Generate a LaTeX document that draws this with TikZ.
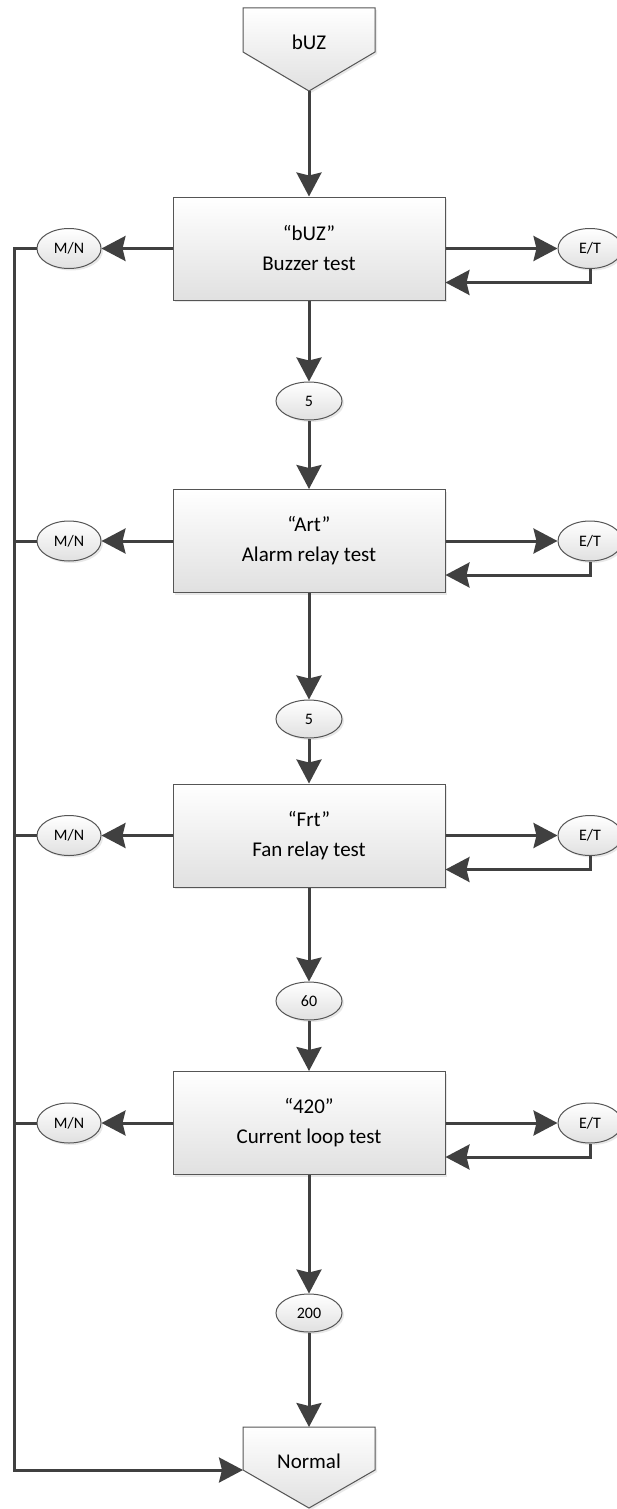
\documentclass[tikz,border=0pt]{standalone}
\usepackage{fontspec}
\setmainfont{Carlito}
\usetikzlibrary{arrows.meta,shadows,calc,shapes.geometric}
\definecolor{conncol}{HTML}{404040}
\definecolor{edgecol}{HTML}{555555}
\begin{document}
\begin{tikzpicture}[x=0.5pt,y=-0.5pt,
  fillsty/.style={draw=edgecol, line width=0.5pt, top color=white, bottom color=black!12,
    drop shadow={opacity=0.18, shadow xshift=1pt, shadow yshift=-1pt}},
  box/.style={fillsty, minimum width=136pt, minimum height=51.5pt, inner sep=0pt,
    align=center, font=\fontsize{10.5}{15}\selectfont},
  tval/.style={fillsty, ellipse, minimum width=33pt, minimum height=19pt, inner sep=0pt,
    font=\fontsize{8}{9.6}\selectfont},
  sideell/.style={fillsty, ellipse, minimum width=32pt, minimum height=20pt, inner sep=0pt,
    font=\fontsize{8}{9.6}\selectfont},
  lbl/.style={font=\fontsize{10.5}{12}\selectfont, inner sep=0pt},
  conn/.style={draw=conncol, line width=1.5pt, -{Stealth[length=12pt,width=12.5pt,inset=1.5pt]}},
  plain/.style={draw=conncol, line width=1.5pt}
]
\useasboundingbox (0,0) rectangle (616,1509);

% start pentagon
\path[fillsty] (243,8) -- (375,8) -- (375,52) -- (309,91) -- (243,52) -- cycle;
\node[lbl] (buz) at (309,42) {bUZ};
\coordinate (buzpt) at (309,91);

% end pentagon
\path[fillsty] (243,1427) -- (375,1427) -- (375,1470) -- (309,1508) -- (243,1470) -- cycle;
\node[lbl] (normal) at (309,1461) {Normal};
\coordinate (normtop) at (309,1427);
\coordinate (normleft) at (243,1470);

% boxes
\node[box] (b1) at (309,248.5) {“bUZ”\\Buzzer test};
\node[box] (b2) at (309,541) {“Art”\\Alarm relay test};
\node[box] (b3) at (309,835.5) {“Frt”\\Fan relay test};
\node[box] (b4) at (309,1123) {“420”\\Current loop test};

% timers
\node[tval] (t1) at (309,401) {5};
\node[tval] (t2) at (309,719) {5};
\node[tval] (t3) at (309,1001) {60};
\node[tval] (t4) at (309,1313) {200};

% M/N and E/T
\foreach \i/\y in {1/248.5,2/541,3/835.5,4/1123}{
  \node[sideell] (mn\i) at (69,\y) {M/N};
  \node[sideell] (et\i) at (590,\y) {E/T};
}

% main flow
\draw[conn] (buzpt) -- (b1.north);
\draw[conn] (b1.south) -- (t1.north);
\draw[conn] (t1.south) -- (b2.north);
\draw[conn] (b2.south) -- (t2.north);
\draw[conn] (t2.south) -- (b3.north);
\draw[conn] (b3.south) -- (t3.north);
\draw[conn] (t3.south) -- (b4.north);
\draw[conn] (b4.south) -- (t4.north);
\draw[conn] (t4.south) -- (normtop);

% side branches
\foreach \i in {1,2,3,4}{
  \draw[conn] (b\i.west) -- (mn\i.east);
  \draw[conn] (b\i.east) -- (et\i.west);
  \coordinate (r\i) at ($(b\i.east)+(0,34)$);
  \draw[conn] (et\i.south) |- (r\i);
}

% left bus
\coordinate (bustop) at (14,248.5);
\coordinate (busbot) at (14,1470);
\draw[conn] (mn1.west) -- (bustop) -- (busbot) -- (normleft);
\foreach \i in {2,3,4}{
  \draw[plain] (mn\i.west) -- (mn\i.west -| bustop);
}
\end{tikzpicture}
\end{document}
